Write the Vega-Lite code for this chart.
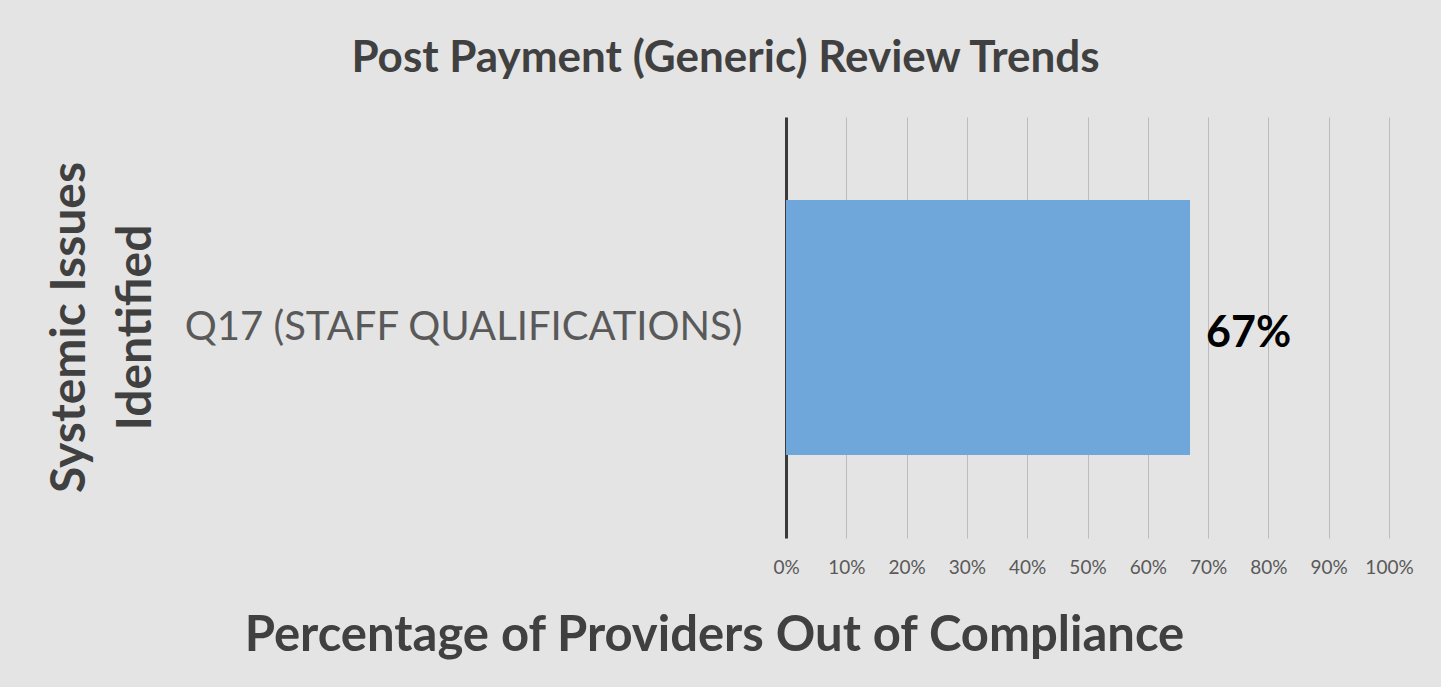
{
  "$schema": "https://vega.github.io/schema/vega-lite/v6.json",
  "autosize": "none",
  "width": 603,
  "height": 421,
  "padding": {"left": 786, "top": 117, "right": 52, "bottom": 149},
  "background": "#e4e4e4",
  "config": {"view": {"stroke": null}, "font": "Lato"},
  "title": {
    "text": "Post Payment (Generic) Review Trends",
    "font": "Lato",
    "fontSize": 44,
    "fontWeight": "bold",
    "color": "#404040",
    "anchor": "middle",
    "dx": -362,
    "offset": 36
  },
  "data": {"values": [{"issue": "Q17 (STAFF QUALIFICATIONS)", "pct": 0.67}]},
  "encoding": {
    "y": {
      "field": "issue",
      "type": "nominal",
      "scale": {"paddingInner": 0.394, "paddingOuter": 0.197},
      "axis": {
        "title": ["Systemic Issues", "Identified"],
        "titleFont": "Lato",
        "titleFontSize": 48,
        "titleFontWeight": "bold",
        "titleColor": "#404040",
        "titleX": -716,
        "titleY": 210,
        "titleAngle": 270,
        "titleAlign": "center",
        "titleBaseline": "middle",
        "titleLineHeight": 66,
        "labelFont": "Lato",
        "labelFontSize": 40,
        "labelColor": "#595959",
        "labelPadding": 44,
        "labelLimit": 800,
        "ticks": false,
        "domainColor": "#3a3a3a",
        "domainWidth": 3
      }
    },
    "x": {
      "field": "pct",
      "type": "quantitative",
      "scale": {"domain": [0, 1]},
      "axis": {
        "values": [0, 0.1, 0.2, 0.3, 0.4, 0.5, 0.6, 0.7, 0.8, 0.9, 1],
        "format": ".0%",
        "title": "Percentage of Providers Out of Compliance",
        "titleFont": "Lato",
        "titleFontSize": 49,
        "titleFontWeight": "bold",
        "titleColor": "#404040",
        "titleX": -72,
        "titleAnchor": "middle",
        "titleAlign": "center",
        "titlePadding": 34,
        "labelFont": "Lato",
        "labelFontSize": 19,
        "labelColor": "#595959",
        "labelPadding": 20,
        "labelFlush": false,
        "labelOverlap": false,
        "ticks": false,
        "domain": false,
        "grid": true,
        "gridColor": "#bcbcbc",
        "gridWidth": 1
      }
    }
  },
  "layer": [
    {"mark": {"type": "bar", "color": "#6fa7da"}},
    {
      "mark": {"type": "text", "align": "left", "baseline": "middle", "dx": 16, "dy": 6, "font": "Lato", "fontSize": 43, "fontWeight": "bold", "color": "#000000"},
      "encoding": {"text": {"field": "pct", "type": "quantitative", "format": ".0%"}}
    }
  ]
}
